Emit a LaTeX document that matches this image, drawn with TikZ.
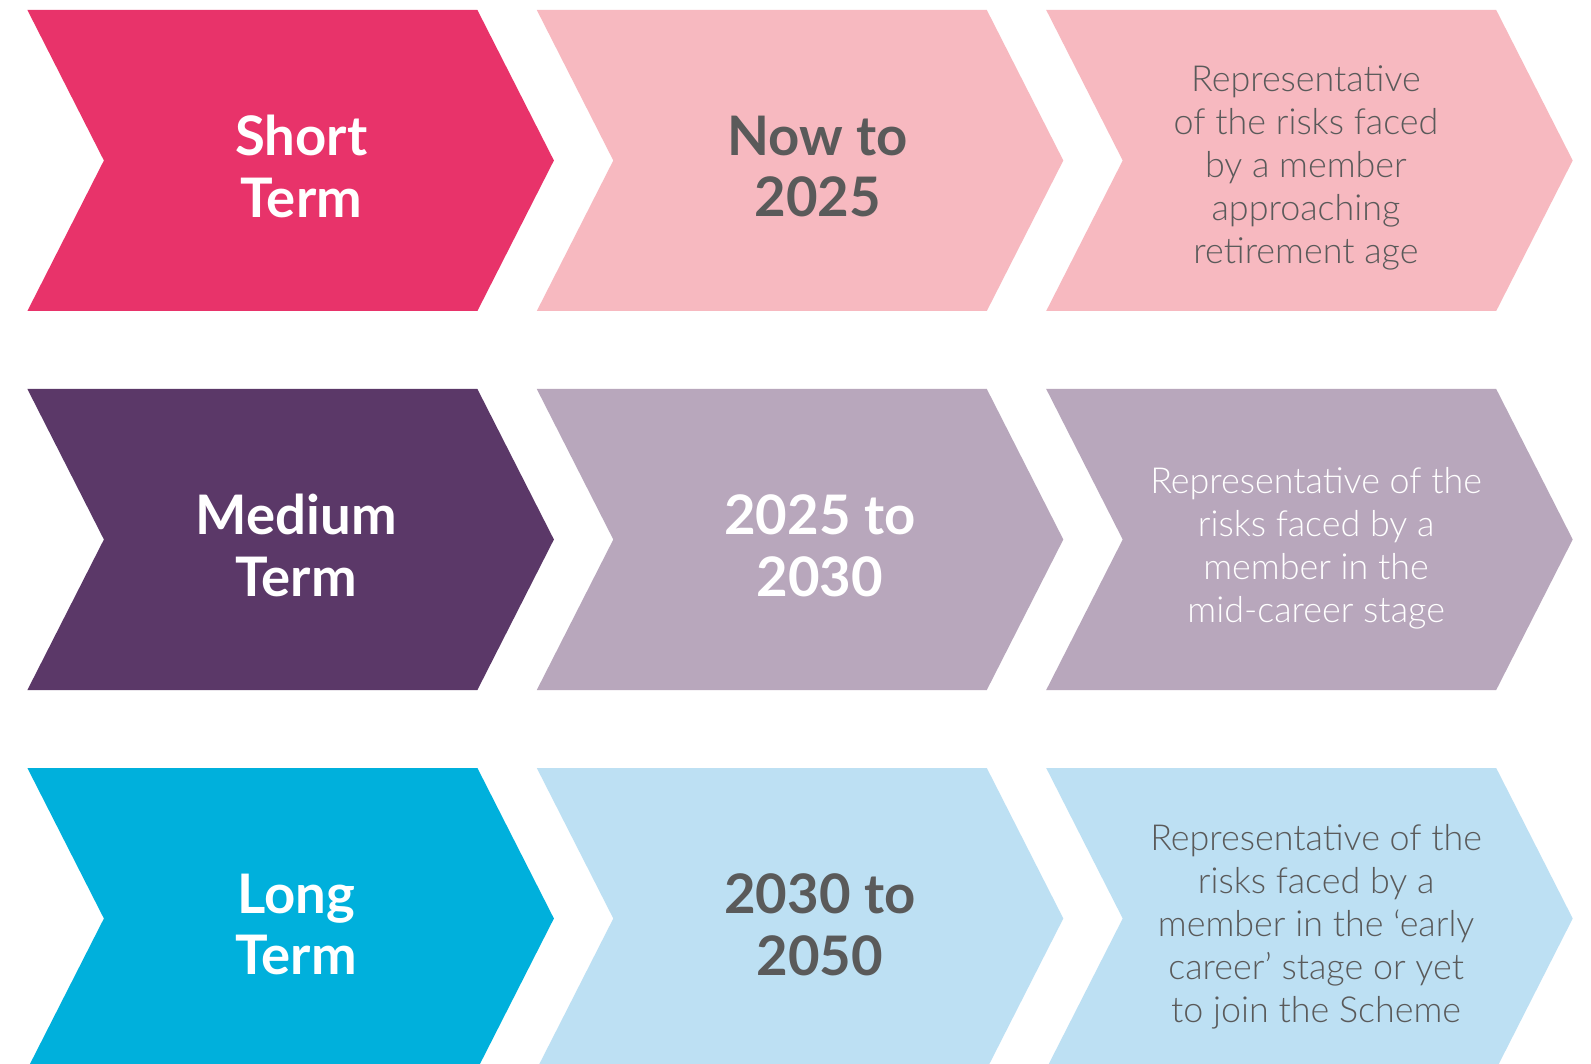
\documentclass[tikz,border=0pt]{standalone}
\usepackage{fontspec}
\setmainfont{Lato}
\newfontfamily\titlefont{Lato Bold}
\newfontfamily\descfont{Lato Light}

\definecolor{shortdark}{HTML}{E8336A}
\definecolor{shortlight}{HTML}{F7B9C0}
\definecolor{meddark}{HTML}{5B3868}
\definecolor{medlight}{HTML}{B8A7BC}
\definecolor{longdark}{HTML}{00B0DC}
\definecolor{longlight}{HTML}{BDE0F3}
\definecolor{textgrey}{HTML}{5A5A5A}

% chevron: #1 = left x, #2 = top y, #3 = fill colour (units are pixels)
\newcommand\drawchev[3]{%
  \fill[#3] (#1,#2) -- ++(450,0) -- ++(76.5,150.5) -- ++(-76.5,150.5)
    -- ++(-450,0) -- ++(76.5,-150.5) -- cycle;}

\tikzset{
  titletext/.style={align=center, font=\titlefont\fontsize{15.5}{17.6}\selectfont, inner sep=0pt},
  desctext/.style={align=center, font=\descfont\fontsize{10.2}{12.2}\selectfont, inner sep=0pt},
}

\begin{document}
\begin{tikzpicture}[x=0.01cm,y=-0.01cm]
\clip (0,0) rectangle (1591,1064);
\fill[white] (0,0) rectangle (1591,1064);

% short term row
\drawchev{27.4}{10}{shortdark}
\drawchev{536.8}{10}{shortlight}
\drawchev{1046.2}{10}{shortlight}
% medium term row
\drawchev{27.4}{389}{meddark}
\drawchev{536.8}{389}{medlight}
\drawchev{1046.2}{389}{medlight}
% long term row
\drawchev{27.4}{768}{longdark}
\drawchev{536.8}{768}{longlight}
\drawchev{1046.2}{768}{longlight}

% labels
\node[titletext, text=white] (st) at (301.4,166.5) {Short\\Term};
\node[titletext, text=textgrey] (sp) at (817.8,166.5) {Now to\\2025};
\node[desctext, text=textgrey] (sd) at (1305.9,168) {Representative\\of the risks faced\\by a member\\approaching\\retirement age};

\node[titletext, text=white] (mt) at (296.3,545.5) {Medium\\Term};
\node[titletext, text=white] (mp) at (819.9,545.5) {2025 to\\2030};
\node[desctext, text=white] (md) at (1316.1,548) {Representative of the\\risks faced by a\\member in the\\mid-career stage};

\node[titletext, text=white] (lt) at (296.3,924.5) {Long\\Term};
\node[titletext, text=textgrey] (lp) at (819.9,924.5) {2030 to\\2050};
\node[desctext, text=textgrey] (ld) at (1316.1,927) {Representative of the\\risks faced by a\\member in the ‘early\\career’ stage or yet\\to join the Scheme};
\end{tikzpicture}
\end{document}
